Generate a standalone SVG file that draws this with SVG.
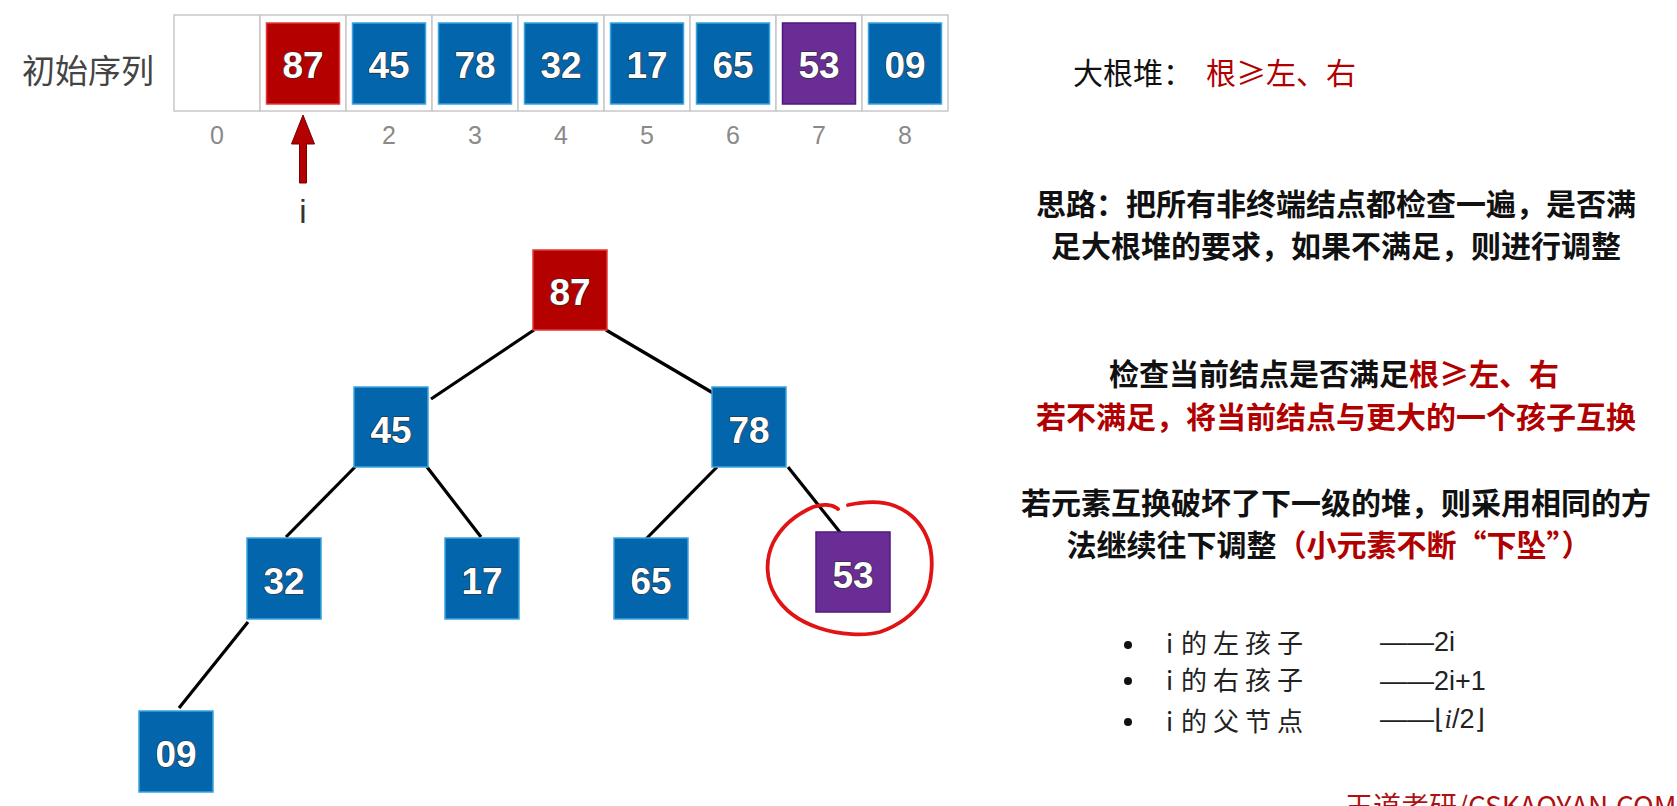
<svg xmlns="http://www.w3.org/2000/svg" width="1677" height="806" viewBox="0 0 1677 806">
<style>
.cell{fill:#fff;stroke:#c8c8c8;stroke-width:1.5}
.blue{fill:#0366ad;stroke:#3aa4de;stroke-width:1.5}
.red{fill:#b50000;stroke:#e23a3a;stroke-width:1.5}
.purple{fill:#6a2c95;stroke:#4e1a7c;stroke-width:1.5}
.num{font-family:"Liberation Sans",Arial,sans-serif;font-weight:bold;font-size:37px;fill:#fff;stroke:#2a2a2a;stroke-width:1.2;paint-order:stroke;text-anchor:middle}
.idx{font-family:"Liberation Sans",Arial,sans-serif;font-size:25px;fill:#8a8a8a;text-anchor:middle}
.edge{stroke:#000;stroke-width:3.2;fill:none}
.cn{font-family:"Noto Sans CJK SC","Noto Sans",sans-serif}
.bold{font-weight:bold;font-size:30px;fill:#111}
.rd{fill:#b00000}
.lst{font-family:"Noto Sans CJK SC",sans-serif;font-size:26px;fill:#222;letter-spacing:6px}
.fm{font-family:"Liberation Sans","DejaVu Sans",sans-serif;font-size:27px;fill:#222}
</style>

<g id="array">
  <text x="88" y="83" class="cn" font-size="33" fill="#444" text-anchor="middle">初始序列</text>
  <rect class="cell" x="174" y="15" width="86" height="96"/>
  <rect class="cell" x="260" y="15" width="86" height="96"/>
  <rect class="cell" x="346" y="15" width="86" height="96"/>
  <rect class="cell" x="432" y="15" width="86" height="96"/>
  <rect class="cell" x="518" y="15" width="86" height="96"/>
  <rect class="cell" x="604" y="15" width="86" height="96"/>
  <rect class="cell" x="690" y="15" width="86" height="96"/>
  <rect class="cell" x="776" y="15" width="86" height="96"/>
  <rect class="cell" x="862" y="15" width="86" height="96"/>
  <rect class="red" x="266.5" y="23" width="73" height="81"/>
  <rect class="blue" x="352.5" y="23" width="73" height="81"/>
  <rect class="blue" x="438.5" y="23" width="73" height="81"/>
  <rect class="blue" x="524.5" y="23" width="73" height="81"/>
  <rect class="blue" x="610.5" y="23" width="73" height="81"/>
  <rect class="blue" x="696.5" y="23" width="73" height="81"/>
  <rect class="purple" x="782.5" y="23" width="73" height="81"/>
  <rect class="blue" x="868.5" y="23" width="73" height="81"/>
  <text class="num" x="303" y="78">87</text>
  <text class="num" x="389" y="78">45</text>
  <text class="num" x="475" y="78">78</text>
  <text class="num" x="561" y="78">32</text>
  <text class="num" x="647" y="78">17</text>
  <text class="num" x="733" y="78">65</text>
  <text class="num" x="819" y="78">53</text>
  <text class="num" x="905" y="78">09</text>
  <text class="idx" x="217" y="144">0</text>
  <text class="idx" x="389" y="144">2</text>
  <text class="idx" x="475" y="144">3</text>
  <text class="idx" x="561" y="144">4</text>
  <text class="idx" x="647" y="144">5</text>
  <text class="idx" x="733" y="144">6</text>
  <text class="idx" x="819" y="144">7</text>
  <text class="idx" x="905" y="144">8</text>
</g>

<g id="pointer">
  <path d="M299.5,183 L299.5,144 L291.5,144 L303,115 L314.5,144 L306.5,144 L306.5,183 Z" fill="#b30000" stroke="#7a0000" stroke-width="1"/>
  <text x="303" y="223" font-family="Liberation Sans,Arial,sans-serif" font-size="33" fill="#333" text-anchor="middle">i</text>
</g>

<g id="connectors">
  <line class="edge" x1="534" y1="330" x2="431" y2="399"/>
  <line class="edge" x1="606" y1="330" x2="713" y2="393"/>
  <line class="edge" x1="355" y1="467" x2="286" y2="537"/>
  <line class="edge" x1="427" y1="467" x2="481" y2="537"/>
  <line class="edge" x1="717" y1="467" x2="646" y2="539"/>
  <line class="edge" x1="788" y1="467" x2="843" y2="536"/>
  <line class="edge" x1="248" y1="622" x2="179" y2="708"/>
</g>

<g id="node87"><rect class="red" x="533" y="250" width="74" height="80"/><text class="num" x="570" y="305">87</text></g>
<g id="node45"><rect class="blue" x="354" y="387" width="74" height="80"/><text class="num" x="391" y="442.5">45</text></g>
<g id="node78"><rect class="blue" x="712" y="387" width="74" height="80"/><text class="num" x="749" y="442.5">78</text></g>
<g id="node32"><rect class="blue" x="247" y="538" width="74" height="81"/><text class="num" x="284" y="594">32</text></g>
<g id="node17"><rect class="blue" x="445" y="538" width="74" height="81"/><text class="num" x="482" y="594">17</text></g>
<g id="node65"><rect class="blue" x="614" y="538" width="74" height="81"/><text class="num" x="651" y="594">65</text></g>
<g id="node53"><rect class="purple" x="816" y="532" width="74" height="80"/><text class="num" x="853" y="588">53</text></g>
<g id="node09"><rect class="blue" x="139" y="711" width="74" height="81"/><text class="num" x="176" y="767">09</text></g>

<g id="circle">
  <path d="M848,505 C862,502 880,500 895,506 C910,512 922,524 928,540 C934,556 933,585 923,600 C913,615 900,625 880,632 C865,636 840,635 819,628 C798,621 783,609 775,595 C766,580 765,560 773,543 C781,527 795,515 813,507 C822,504 832,504 838,509" fill="none" stroke="#e01414" stroke-width="3.8" stroke-linecap="round" stroke-linejoin="round"/>
</g>

<g id="notes">
  <text x="1073" y="84" class="cn" font-size="30" fill="#111">大根堆：</text>
  <text x="1206" y="84" class="cn rd" font-size="30">根≥左、右</text>
  <text x="1336" y="215" class="cn bold" text-anchor="middle">思路：把所有非终端结点都检查一遍，是否满</text>
  <text x="1336" y="257" class="cn bold" text-anchor="middle">足大根堆的要求，如果不满足，则进行调整</text>
  <text x="1334" y="385" class="cn bold" text-anchor="middle">检查当前结点是否满足<tspan class="rd">根≥左、右</tspan></text>
  <text x="1336" y="428" class="cn bold rd" text-anchor="middle">若不满足，将当前结点与更大的一个孩子互换</text>
  <text x="1336" y="514" class="cn bold" text-anchor="middle">若元素互换破坏了下一级的堆，则采用相同的方</text>
  <text x="1329" y="556" class="cn bold" text-anchor="middle">法继续往下调整<tspan class="rd">（小元素不断“下坠”）</tspan></text>
</g>

<g id="formulas">
  <circle cx="1128" cy="645" r="4" fill="#111"/>
  <circle cx="1128" cy="681" r="4" fill="#111"/>
  <circle cx="1128" cy="722" r="4" fill="#111"/>
  <text y="653" class="lst"><tspan x="1166">i</tspan><tspan x="1181">的左孩子</tspan></text>
  <text y="690" class="lst"><tspan x="1166">i</tspan><tspan x="1181">的右孩子</tspan></text>
  <text y="731" class="lst"><tspan x="1166">i</tspan><tspan x="1181">的父节点</tspan></text>
  <text x="1380" y="651" class="fm">——2i</text>
  <text x="1380" y="690" class="fm">——2i+1</text>
  <text x="1380" y="728" class="fm">——⌊<tspan font-family="Liberation Serif,serif" font-style="italic">i</tspan>/2⌋</text>
</g>

<text x="1345" y="817" class="cn" font-size="28" fill="#b01010">王道考研/CSKAOYAN.COM</text>
</svg>
